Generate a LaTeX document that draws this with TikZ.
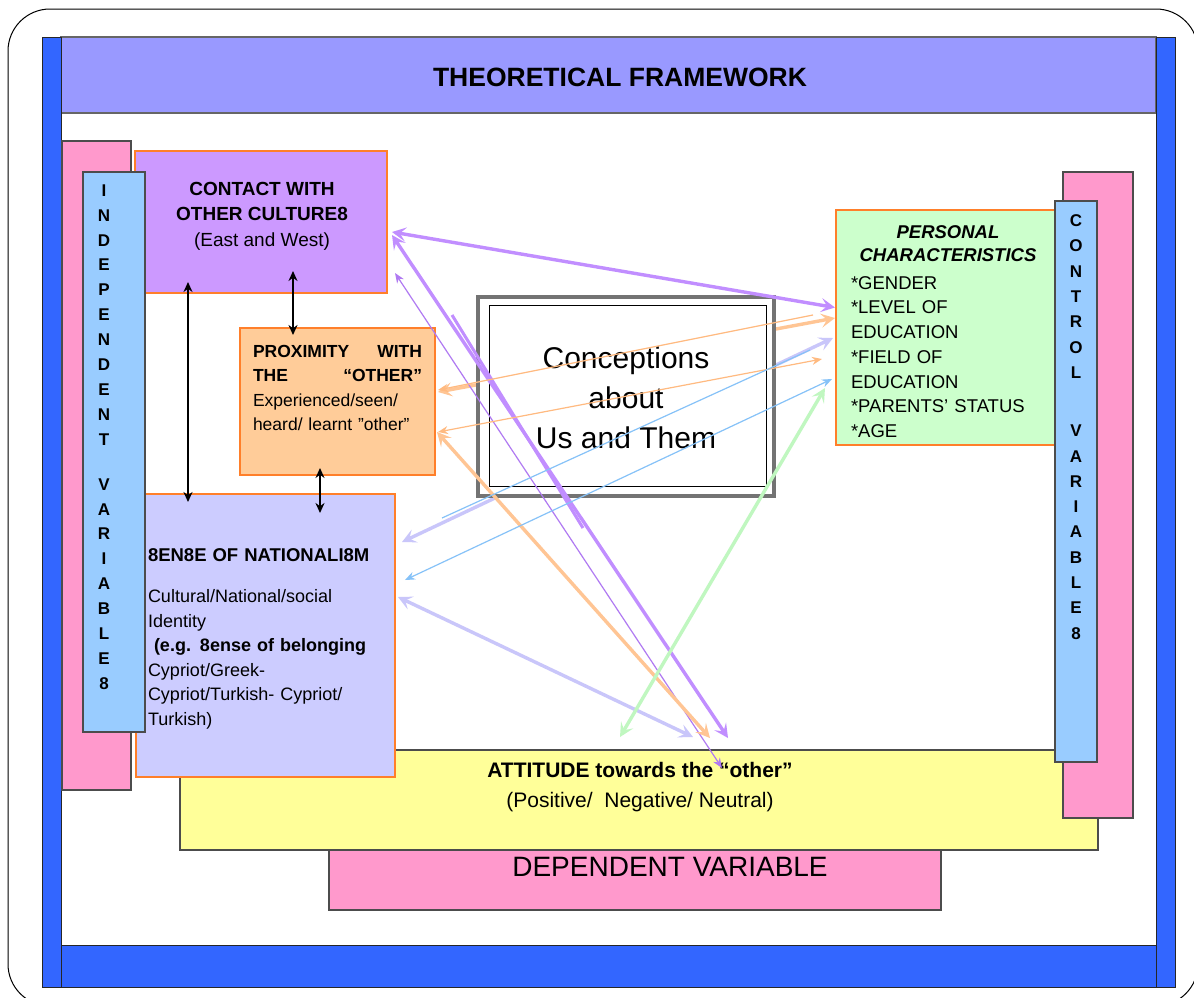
\documentclass[tikz,border=0pt]{standalone}
\usepackage{fontspec}
\setmainfont{Liberation Sans}
\usetikzlibrary{arrows.meta,calc}
\definecolor{frameblue}{HTML}{3366FF}
\definecolor{titleblue}{HTML}{9999FF}
\definecolor{pinkc}{HTML}{FF99CC}
\definecolor{lblue}{HTML}{99CCFF}
\definecolor{contactc}{HTML}{CC99FF}
\definecolor{proxc}{HTML}{FFCC99}
\definecolor{natc}{HTML}{CCCCFF}
\definecolor{persc}{HTML}{CCFFCC}
\definecolor{yellowc}{HTML}{FFFF99}
\definecolor{borderor}{HTML}{FF7F2A}
\definecolor{arrpurple}{HTML}{C18EFF}
\definecolor{arrpurplethin}{HTML}{B07AF2}
\definecolor{arrorange}{HTML}{FFC594}
\definecolor{arrorangethin}{HTML}{FFBA80}
\definecolor{arrlav}{HTML}{C9C6FA}
\definecolor{arrgreen}{HTML}{C0F7C0}
\definecolor{arrblue}{HTML}{86C2F8}
\newcommand{\myfs}[2]{\fontsize{#1}{#2}\selectfont}
\tikzset{
  panel/.style={anchor=north west, inner sep=0pt, outer sep=0pt, draw=black!70, line width=1.3pt, fill=#1},
  orpanel/.style={anchor=north west, inner sep=0pt, outer sep=0pt, draw=borderor, line width=1.8pt, fill=#1},
  bluebar/.style={anchor=north west, inner sep=0pt, outer sep=0pt, draw=black!85, line width=0.8pt, fill=frameblue},
  txt/.style={inner sep=0pt, outer sep=0pt},
  thickarr/.style={draw=#1, line width=3.4pt, arrows={Stealth[length=14pt,width=14pt,inset=6pt]-Stealth[length=14pt,width=14pt,inset=6pt]}},
  thinarr/.style={draw=#1, line width=1.2pt, arrows={Stealth[length=10pt,width=8pt]-Stealth[length=10pt,width=8pt]}},
  thinline/.style={draw=#1, line width=1.2pt},
  blackarr/.style={draw=black, line width=2.6pt, arrows={Stealth[length=10pt,width=9pt]-Stealth[length=10pt,width=9pt]}}
}
\begin{document}
\begin{tikzpicture}[x=1pt,y=-1pt]
\useasboundingbox (0,0) rectangle (1194,997);
\fill[white] (0,0) rectangle (1194,997);
\draw[line width=1pt, rounded corners=42pt] (8,9) rectangle (1198,1006);

% frame
\node[panel=titleblue, draw=black!60, minimum width=1095, minimum height=76] (title) at (61,37) {};
\node[txt, font=\myfs{26.5}{30}\bfseries] (titletxt) at (620,77) {THEORETICAL FRAMEWORK};
\node[bluebar, minimum width=19, minimum height=950] (lbar) at (42,37) {};
\node[bluebar, minimum width=19, minimum height=950] (rbar) at (1156,37) {};
\node[bluebar, minimum width=1095, minimum height=42] (bbar) at (61,945) {};

% dependent / attitude / control
\node[panel=pinkc, minimum width=612, minimum height=90] (dep) at (329,820) {};
\node[txt, font=\myfs{28}{30}] (deptxt) at (670,867) {DEPENDENT VARIABLE};
\node[panel=yellowc, minimum width=918, minimum height=100] (att) at (180,750) {};
\node[txt, align=center, font=\myfs{21}{30}] (atttxt) at (640,787)
  {\textbf{ATTITUDE towards the “other”}\\(Positive/\ \ Negative/\ Neutral)};
\node[panel=pinkc, minimum width=70, minimum height=646] (pinkr) at (1063,172) {};
\node[orpanel=persc, minimum width=219, minimum height=235] (pers) at (836,210) {};
\node[panel=lblue, minimum width=42, minimum height=561] (ctrl) at (1055,201) {};
\node[txt, align=center, font=\myfs{17}{25.3}\bfseries] (ctrltxt) at (1076,427)
  {C\\O\\N\\T\\R\\O\\L\\[33pt]V\\A\\R\\I\\A\\B\\L\\E\\8};
\node[txt, align=center, font=\myfs{18.5}{23}\bfseries\itshape] (perstitle) at (948,244)
  {PERSONAL\\CHARACTERISTICS};
\node[txt, text width=200pt, align=left, font=\myfs{18.5}{24.7}] (perslist) at (951,357)
  {{*}GENDER\\{*}LEVEL OF\\EDUCATION\\{*}FIELD OF\\EDUCATION\\{*}PARENTS' STATUS\\{*}AGE};

% independent side
\node[panel=pinkc, minimum width=69, minimum height=649] (pinkl) at (62,141) {};
\node[orpanel=contactc, minimum width=252, minimum height=142] (contact) at (135,151) {};
\node[txt, align=center, font=\myfs{19}{25.5}] (contacttxt) at (262,216)
  {\textbf{CONTACT WITH}\\\textbf{OTHER CULTURE8}\\(East and West)};
\node[orpanel=proxc, minimum width=195, minimum height=147] (prox) at (240,328) {};
\node[txt, text width=169pt, align=left, font=\myfs{17.5}{24.5}] (proxtxt) at (337.5,388)
  {\textbf{PROXIMITY}\hfill\textbf{WITH}\\\textbf{THE}\hfill\textbf{“OTHER”}\\Experienced/seen/\\heard/ learnt "other"};
\node[orpanel=natc, minimum width=259, minimum height=283] (nat) at (136,494) {};
\node[txt, text width=245pt, align=left, font=\myfs{18}{24.6}] (nattxt) at (270.5,639)
  {{\myfs{18.5}{24.6}\bfseries 8EN8E OF NATIONALI8M}\\[16pt]Cultural/National/social\\Identity\\\hspace*{6pt}\textbf{(e.g. 8ense of belonging}\\Cypriot/Greek-\\Cypriot/Turkish- Cypriot/\\Turkish)};
\node[panel=lblue, minimum width=62, minimum height=560] (indep) at (83,172) {};
\node[txt, align=center, font=\myfs{17}{24.9}\bfseries] (indeptxt) at (104,437)
  {I\\N\\D\\E\\P\\E\\N\\D\\E\\N\\T\\[20pt]V\\A\\R\\I\\A\\B\\L\\E\\8};

% faded arrows hidden behind the centre box
\draw[thickarr=arrorange] ([shift={(3,-9.5)}]prox.east) -- ([shift={(-1,-9.5)}]pers.west);
\draw[thickarr=arrlav] ([shift={(7,-93.5)}]nat.east) -- ([shift={(-3,10.5)}]pers.west);

% centre box
\node[anchor=north west, inner sep=0pt, outer sep=0pt, draw=black!55, line width=4pt, fill=white, minimum width=296, minimum height=199] (cbox) at (478,297) {};
\node[anchor=north west, inner sep=0pt, outer sep=0pt, draw=black, line width=1pt, minimum width=277, minimum height=181] (cinner) at (489,305) {};
\node[txt, align=center, font=\myfs{30}{40}] (ctxt) at (626,398) {Conceptions\\about\\Us and Them};

% coloured connectors
\coordinate (s1) at (452,315);
\coordinate (s2) at (583,528);
\draw[thickarr=arrpurple] ([shift={(5,10)}]contact.east) -- ([shift={(-1,-20)}]pers.west);
\draw[thickarr=arrpurple] ([shift={(5,13)}]contact.east) -- ([shift={(89,-12)}]att.north);
\draw[draw=arrpurple, line width=3pt] (s1) -- (s2);
\draw[thinarr=arrpurplethin] ([shift={(8,51)}]contact.east) -- ([shift={(83,18)}]att.north);
\draw[thickarr=arrorange] ([shift={(2,30.5)}]prox.east) -- ([shift={(71,-12)}]att.north);
\draw[thinline=arrorangethin, arrows=-{Stealth[length=10pt,width=8pt]}] ([shift={(-23,-12.5)}]pers.west) -- ([shift={(3,-11.5)}]prox.east);
\draw[thinarr=arrorangethin] ([shift={(3,30.5)}]prox.east) -- ([shift={(-14,31.5)}]pers.west);
\draw[thinline=arrblue] ([shift={(47,-117.5)}]nat.east) -- ([shift={(-26,22.5)}]pers.west);
\draw[thinarr=arrblue] ([shift={(10,-55.5)}]nat.east) -- ([shift={(-4,51.5)}]pers.west);
\draw[thickarr=arrlav] ([shift={(3,-38.5)}]nat.east) -- ([shift={(54,-13)}]att.north);
\draw[thickarr=arrgreen] ([shift={(-11,60.5)}]pers.west) -- ([shift={(-19,-13)}]att.north);

% black connectors
\draw[blackarr] ([shift={(53,-11)}]contact.south west) -- ([shift={(52,8)}]nat.north west);
\draw[blackarr] ([shift={(158,-22)}]contact.south west) -- ([shift={(53,7)}]prox.north west);
\draw[blackarr] ([shift={(80,-7)}]prox.south west) -- ([shift={(184,19)}]nat.north west);
\end{tikzpicture}
\end{document}
